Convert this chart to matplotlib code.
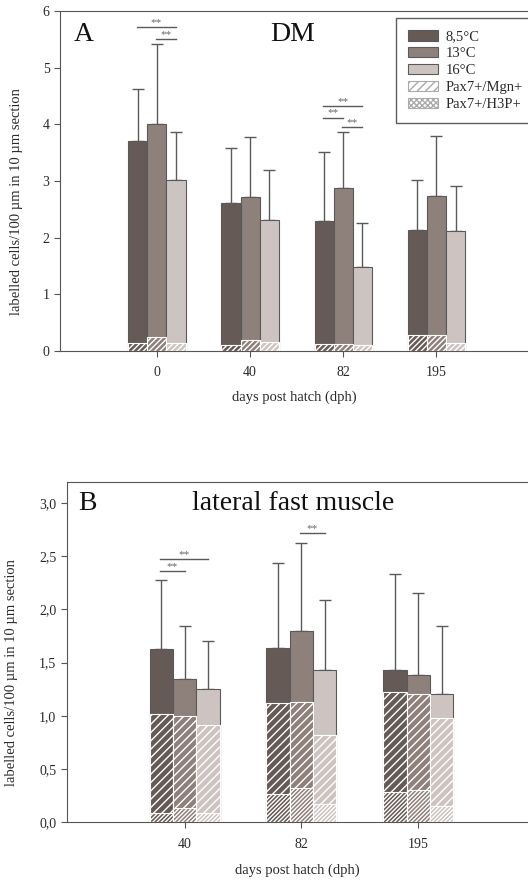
import matplotlib
matplotlib.use("Agg")
import matplotlib.pyplot as plt
from matplotlib.patches import Patch
import numpy as np

plt.rcParams['font.family'] = ['Liberation Serif', 'DejaVu Serif']
plt.rcParams['hatch.linewidth'] = 1.0
plt.rcParams['hatch.color'] = 'white'

temps = ['8,5°C', '13°C', '16°C']
colors = ['#655a55', '#8e807a', '#cdc4c1']

# Panel A: DM
days_a = ['0', '40', '82', '195']
total_a = [[3.71, 2.61, 2.29, 2.13],
           [4.01, 2.72, 2.87, 2.74],
           [3.02, 2.32, 1.48, 2.11]]
err_a = [[0.92, 0.97, 1.22, 0.89],
         [1.41, 1.06, 0.99, 1.05],
         [0.85, 0.87, 0.78, 0.81]]
mgn_a = [[0.15, 0.11, 0.12, 0.28],
         [0.24, 0.20, 0.13, 0.29],
         [0.14, 0.16, 0.11, 0.15]]

# Panel B: lateral fast muscle
days_b = ['40', '82', '195']
total_b = [[1.63, 1.64, 1.43],
           [1.35, 1.80, 1.38],
           [1.25, 1.43, 1.21]]
err_b = [[0.65, 0.80, 0.90],
         [0.49, 0.82, 0.77],
         [0.45, 0.66, 0.63]]
mgn_b = [[1.02, 1.12, 1.22],
         [1.00, 1.13, 1.21],
         [0.91, 0.82, 0.98]]
h3p_b = [[0.085, 0.27, 0.28],
         [0.13, 0.32, 0.30],
         [0.09, 0.17, 0.15]]

# significance brackets: (group, bar_from, bar_to, y)
sig_a = [(0, 0, 2, 5.72), (0, 1, 2, 5.51),
         (2, 0, 2, 4.32), (2, 0, 1, 4.12), (2, 1, 2, 3.96)]
sig_b = [(0, 0, 2, 2.47), (0, 0, 1, 2.36), (1, 1, 2, 2.72)]

txt = '#2a2a2a'
edge = '#5a5a5a'


def draw_panel(ax, days, totals, errs, segs, hatches, w, sigs):
    x = np.arange(len(days))
    for i in range(3):
        xs = x + (i - 1) * w
        ax.bar(xs, totals[i], w, color=colors[i], edgecolor=edge, linewidth=0.8, zorder=2)
        # hatched segments from bottom up, drawn largest first
        for seg, h in zip(segs, hatches):
            ax.bar(xs, seg[i], w, color=colors[i], edgecolor='white', hatch=h,
                   linewidth=0.8, zorder=3)
        ax.errorbar(xs, totals[i], yerr=[np.zeros(len(days)), errs[i]], fmt='none',
                    ecolor=edge, elinewidth=1, capsize=4, capthick=1, zorder=1)
    for g, a, b, y in sigs:
        x0 = g + (a - 1) * w - 0.01
        x1 = g + (b - 1) * w
        ax.plot([x0, x1], [y, y], color=edge, lw=1)
        ax.text((x0 + x1) / 2, y, '**', ha='center', va='bottom', fontsize=8, color='#666666')
    ax.set_xticks(x)
    ax.set_xticklabels(days)
    ax.spines['right'].set_visible(False)
    for s in ['left', 'bottom', 'top']:
        ax.spines[s].set_color('#555555')
    ax.tick_params(colors='#555555', labelcolor=txt, labelsize=10, length=4)
    ax.tick_params(axis='x', pad=7)
    ax.set_xlabel('days post hatch (dph)', fontsize=10.5, color=txt)
    ax.set_ylabel('labelled cells/100 µm in 10 µm section', fontsize=10.5, color=txt)


fig = plt.figure(figsize=(5.28, 8.82), dpi=100)

axA = fig.add_axes([0.1136, 0.602, 0.886, 0.3855])
draw_panel(axA, days_a, total_a, err_a, [mgn_a], ['//////'], 0.205, sig_a)
axA.set_xlim(-1.04, 3.98)
axA.set_ylim(0, 6)
axA.set_yticks(range(7))
axA.yaxis.set_label_coords(-0.08, 0.441)
axA.xaxis.set_label_coords(0.5, -0.115)
axA.text(0.03, 0.93, 'A', transform=axA.transAxes, fontsize=20, va='center', color='#111111')
axA.text(0.498, 0.93, 'DM', transform=axA.transAxes, fontsize=20, ha='center', va='center',
         color='#111111')
handles = [Patch(facecolor=c, edgecolor=edge, linewidth=0.8) for c in colors]
handles.append(Patch(facecolor='white', edgecolor='#aaaaaa', hatch='////', linewidth=0.8))
handles.append(Patch(facecolor='white', edgecolor='#aaaaaa', hatch='xxxxxx', linewidth=0.8))
plt.rcParams['hatch.color'] = '#aaaaaa'
leg = axA.legend(handles, temps + ['Pax7+/Mgn+', 'Pax7+/H3P+'], loc='upper left',
                 bbox_to_anchor=(0.718, 0.979), fontsize=10.5, frameon=True, fancybox=False,
                 edgecolor='#333333', handlelength=2.1, handleheight=0.75,
                 handletextpad=0.5, labelspacing=0.24, borderpad=0.8, borderaxespad=0)
leg.get_frame().set_linewidth(1.0)
for t in leg.get_texts():
    t.set_color(txt)
plt.rcParams['hatch.color'] = 'white'

axB = fig.add_axes([0.1263, 0.0677, 0.8737, 0.3861])
draw_panel(axB, days_b, total_b, err_b, [mgn_b, h3p_b], ['////', '////////'], 0.2, sig_b)
axB.set_xlim(-1.01, 2.94)
axB.set_ylim(0, 3.2)
axB.set_yticks(np.arange(0, 3.01, 0.5))
axB.set_yticklabels([f'{v:.1f}'.replace('.', ',') for v in np.arange(0, 3.01, 0.5)])
axB.yaxis.set_label_coords(-0.105, 0.441)
axB.xaxis.set_label_coords(0.5, -0.122)
axB.text(0.025, 0.937, 'B', transform=axB.transAxes, fontsize=20, va='center', color='#111111')
axB.text(0.49, 0.937, 'lateral fast muscle', transform=axB.transAxes, fontsize=20,
         ha='center', va='center', color='#111111')

fig.savefig('out.png', dpi=100)
